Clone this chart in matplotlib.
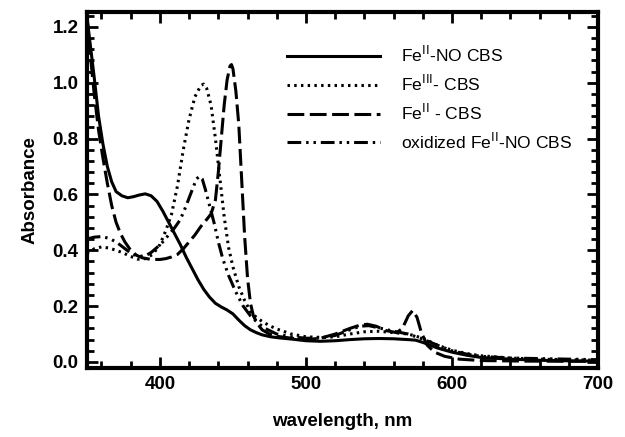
import matplotlib
matplotlib.use("Agg")
import matplotlib.pyplot as plt
from matplotlib.ticker import MultipleLocator

plt.rcParams['font.family'] = ['Liberation Sans', 'DejaVu Sans']

# Fe(II)-NO CBS
wl_feno = [350, 352, 355, 358, 361, 364, 367, 370, 374, 378, 382, 386, 390, 394,
           398, 402, 406, 410, 414, 418, 422, 426, 430, 434, 438, 442, 446, 450,
           454, 458, 462, 466, 470, 476, 482, 490, 500, 510, 520, 530, 540, 550,
           560, 570, 575, 580, 590, 600, 610, 620, 640, 660, 680, 700]
abs_feno = [1.24, 1.15, 1.02, 0.88, 0.78, 0.70, 0.645, 0.61, 0.595, 0.588, 0.592,
            0.598, 0.602, 0.595, 0.575, 0.54, 0.50, 0.46, 0.42, 0.375, 0.335,
            0.295, 0.26, 0.232, 0.21, 0.197, 0.186, 0.172, 0.15, 0.13, 0.115,
            0.105, 0.097, 0.09, 0.086, 0.082, 0.076, 0.074, 0.076, 0.08, 0.083,
            0.084, 0.083, 0.08, 0.078, 0.07, 0.05, 0.035, 0.024, 0.016, 0.01,
            0.006, 0.004, 0.003]

# Fe(III) CBS
wl_fe3 = [350, 355, 360, 365, 370, 375, 380, 385, 390, 395, 400, 404, 408, 412,
          416, 420, 424, 428, 430, 432, 435, 438, 441, 444, 447, 450, 454, 458,
          462, 466, 470, 475, 480, 490, 500, 510, 520, 530, 540, 550, 560, 570,
          580, 590, 600, 610, 620, 640, 660, 680, 700]
abs_fe3 = [0.39, 0.405, 0.412, 0.408, 0.40, 0.39, 0.378, 0.368, 0.37, 0.385, 0.42,
           0.47, 0.53, 0.63, 0.76, 0.87, 0.95, 0.99, 0.995, 0.98, 0.92, 0.80,
           0.66, 0.52, 0.41, 0.34, 0.27, 0.22, 0.18, 0.16, 0.145, 0.13, 0.118,
           0.10, 0.09, 0.088, 0.09, 0.10, 0.108, 0.11, 0.105, 0.10, 0.085, 0.06,
           0.042, 0.03, 0.022, 0.014, 0.01, 0.008, 0.006]

# Fe(II) CBS
wl_fe2 = [350, 352, 355, 358, 361, 364, 367, 370, 373, 376, 380, 384, 388, 392,
          396, 400, 404, 408, 412, 416, 420, 424, 428, 432, 435, 438, 440, 442,
          444, 446, 448, 449, 450, 452, 454, 456, 458, 460, 462, 464, 467, 470,
          475, 480, 490, 500, 510, 520, 530, 537, 542, 548, 555, 562, 566, 570,
          573, 576, 579, 583, 588, 595, 605, 620, 650, 700]
abs_fe2 = [1.24, 1.12, 0.96, 0.83, 0.73, 0.64, 0.56, 0.50, 0.46, 0.43, 0.4,
           0.382, 0.373, 0.369, 0.367, 0.367, 0.37, 0.376, 0.385, 0.405, 0.43,
           0.455, 0.485, 0.51, 0.53, 0.58, 0.68, 0.80, 0.92, 1.01, 1.06, 1.065,
           1.05, 0.97, 0.85, 0.65, 0.45, 0.30, 0.21, 0.165, 0.135, 0.115, 0.10,
           0.092, 0.085, 0.08, 0.085, 0.10, 0.12, 0.132, 0.135, 0.128, 0.112,
           0.105, 0.12, 0.165, 0.184, 0.16, 0.105, 0.06, 0.035, 0.02, 0.01,
           0.005, 0.003, 0.002]

# oxidized Fe(II)-NO CBS
wl_ox = [350, 355, 360, 365, 370, 375, 380, 385, 390, 394, 398, 402, 406, 410,
         414, 418, 422, 425, 427, 429, 431, 434, 437, 440, 443, 447, 452, 457,
         462, 467, 472, 480, 490, 500, 510, 520, 530, 537, 543, 550, 560, 570,
         580, 590, 600, 610, 620, 640, 660, 680, 700]
abs_ox = [0.44, 0.447, 0.449, 0.443, 0.43, 0.41, 0.39, 0.378, 0.38, 0.392, 0.41,
          0.43, 0.455, 0.48, 0.51, 0.56, 0.615, 0.655, 0.665, 0.655, 0.62, 0.56,
          0.50, 0.43, 0.37, 0.31, 0.25, 0.20, 0.165, 0.14, 0.12, 0.10, 0.09,
          0.085, 0.085, 0.095, 0.115, 0.128, 0.13, 0.122, 0.11, 0.10, 0.082,
          0.06, 0.04, 0.028, 0.02, 0.014, 0.012, 0.01, 0.008]

fig = plt.figure(figsize=(6.25, 4.37), dpi=100)
ax = fig.add_axes([0.139, 0.158, 0.818, 0.815])

lw = 2.2
ax.plot(wl_feno, abs_feno, color='black', lw=lw, ls='-',
        label=r'Fe$^{\rm II}$-NO CBS')
ax.plot(wl_fe3, abs_fe3, color='black', lw=lw, ls=(0, (0.8, 1.4)),
        label=r'Fe$^{\rm III}$- CBS')
ax.plot(wl_fe2, abs_fe2, color='black', lw=lw, ls=(0, (5.5, 1.8)),
        label=r'Fe$^{\rm II}$ - CBS')
ax.plot(wl_ox, abs_ox, color='black', lw=lw,
        ls=(0, (4.5, 1.6, 0.8, 1.6, 0.8, 1.6)),
        label=r'oxidized Fe$^{\rm II}$-NO CBS')

ax.set_xlim(350, 700)
ax.set_ylim(-0.0215, 1.254)
ax.xaxis.set_major_locator(MultipleLocator(100))
ax.xaxis.set_minor_locator(MultipleLocator(20))
ax.yaxis.set_major_locator(MultipleLocator(0.2))
ax.yaxis.set_minor_locator(MultipleLocator(0.04))
ax.yaxis.set_major_formatter(plt.FormatStrFormatter('%.1f'))

for s in ax.spines.values():
    s.set_linewidth(3)
ax.tick_params(which='both', direction='in', top=True, right=True,
               width=2, labelsize=13.5, pad=6)
ax.tick_params(which='major', length=8)
ax.tick_params(which='minor', length=5)
for lab in ax.get_xticklabels() + ax.get_yticklabels():
    lab.set_fontweight('bold')

ax.set_xlabel('wavelength, nm', fontsize=13.5, fontweight='bold', labelpad=14)
ax.set_ylabel('Absorbance', fontsize=13.5, fontweight='bold', labelpad=10)

ax.legend(loc='upper left', bbox_to_anchor=(0.391, 0.907), frameon=False,
          fontsize=12.6, handlelength=5.3, handletextpad=1.25,
          labelspacing=0.5, borderpad=0, borderaxespad=0)

fig.savefig('out.png', dpi=100)
